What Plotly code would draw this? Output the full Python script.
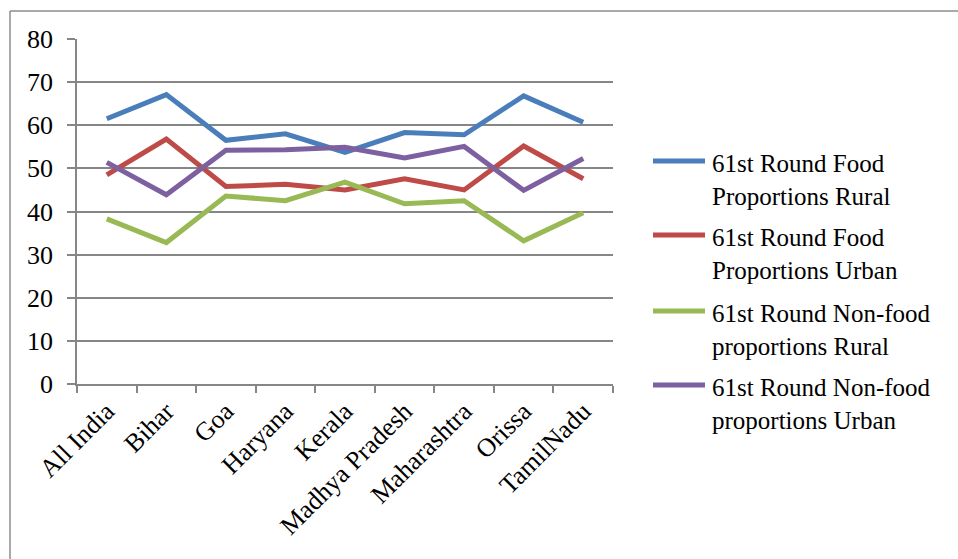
import plotly.graph_objects as go

states = ["All India", "Bihar", "Goa", "Haryana", "Kerala",
          "Madhya Pradesh", "Maharashtra", "Orissa", "TamilNadu"]

food_rural = [61.5, 67.1, 56.5, 58.0, 53.7, 58.3, 57.8, 66.8, 60.7]
food_urban = [48.5, 56.8, 45.8, 46.3, 45.0, 47.6, 45.0, 55.2, 47.6]
nonfood_rural = [38.3, 32.8, 43.6, 42.5, 46.8, 41.8, 42.5, 33.2, 39.7]
nonfood_urban = [51.4, 43.9, 54.2, 54.3, 54.9, 52.4, 55.1, 44.9, 52.3]

series_names = [
    "61st Round Food<br>Proportions Rural",
    "61st Round Food<br>Proportions Urban",
    "61st Round Non-food<br>proportions Rural",
    "61st Round Non-food<br>proportions Urban",
]
series_values = [food_rural, food_urban, nonfood_rural, nonfood_urban]
colors = ["#4A7EBB", "#BE4B48", "#98B954", "#7D60A0"]

y_ticks = [0, 10, 20, 30, 40, 50, 60, 70, 80]

fig = go.Figure()
for name, vals, col in zip(series_names, series_values, colors):
    fig.add_trace(go.Scatter(
        x=states, y=vals, name=name, mode="lines",
        line=dict(color=col, width=5),
    ))

W, H = 958, 559
L, R, T, B = 77, 613, 39, 384

def px_x(px):
    return (px - L) / (R - L)

def px_y(py):
    return (B - py) / (B - T)

tick_font = dict(family="Liberation Serif", size=26, color="black")
legend_font = dict(family="Liberation Serif", size=25, color="black")

# legend drawn by hand: a line sample and a two-line label per series
shapes = []
annotations = []
legend_rows = [161, 235, 311, 385]
for name, col, row in zip(series_names, colors, legend_rows):
    shapes.append(dict(
        type="line", xref="paper", yref="paper",
        x0=px_x(653), x1=px_x(705), y0=px_y(row), y1=px_y(row),
        line=dict(color=col, width=5),
    ))
    annotations.append(dict(
        xref="paper", yref="paper", x=px_x(710), y=px_y(row + 19),
        xanchor="left", yanchor="middle", align="left", showarrow=False,
        text=name, font=legend_font,
    ))

# outer chart frame (top and left edges)
shapes += [
    dict(type="line", xref="paper", yref="paper",
         x0=px_x(10), x1=px_x(W + 5), y0=px_y(11), y1=px_y(11),
         line=dict(color="#8c8c8c", width=1.5)),
    dict(type="line", xref="paper", yref="paper",
         x0=px_x(10), x1=px_x(10), y0=px_y(11), y1=px_y(H + 5),
         line=dict(color="#8c8c8c", width=1.5)),
]

fig.update_layout(
    width=W, height=H,
    margin=dict(l=L, r=W - R, t=T, b=H - B),
    paper_bgcolor="white", plot_bgcolor="white",
    font=tick_font,
    showlegend=False,
    xaxis=dict(
        type="category", range=[-0.5, len(states) - 0.5],
        tickangle=-45, tickson="boundaries",
        ticks="outside", ticklen=7, tickcolor="#868686", tickwidth=1.5,
        showline=True, linecolor="#868686", linewidth=1.5,
        showgrid=False, tickfont=tick_font,
    ),
    yaxis=dict(
        range=[0, 80], tickvals=y_ticks, ticks="outside", ticklen=8,
        tickcolor="#868686", tickwidth=1.5,
        showline=True, linecolor="#868686", linewidth=1.5,
        showgrid=True, gridcolor="#868686", gridwidth=1.5,
        zeroline=False, ticklabelstandoff=9, tickfont=tick_font,
    ),
    shapes=shapes,
    annotations=annotations,
)

fig.write_html("out.html", config={"displayModeBar": False})
